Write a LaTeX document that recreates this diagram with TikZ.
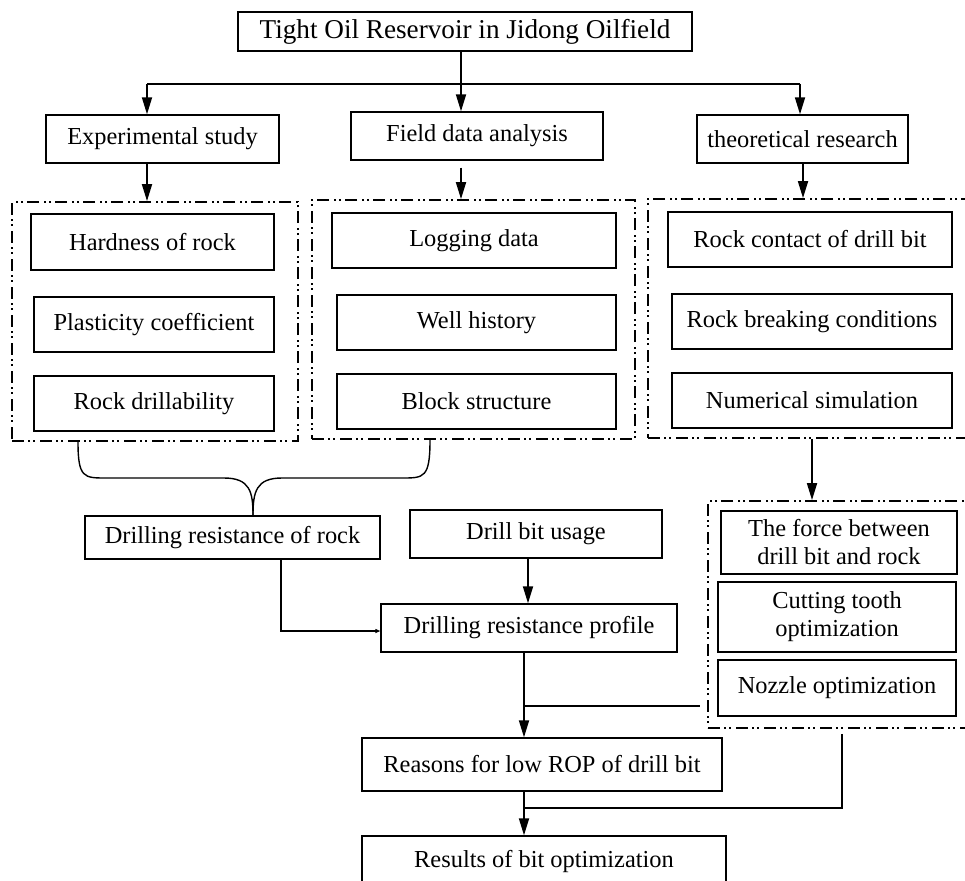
\documentclass[tikz,border=0pt]{standalone}
\usepackage{fontspec}
\setmainfont{Liberation Serif}
\usetikzlibrary{arrows.meta,calc}
\begin{document}
\begin{tikzpicture}[x=1pt,y=-1pt,
  box/.style={draw, line width=1.4pt, inner sep=0pt, align=center,
              font=\fontsize{24.4pt}{28pt}\selectfont},
  grp/.style={draw, line width=1.8pt, inner sep=0pt,
              dash pattern=on 12pt off 4pt on 2pt off 3pt on 2pt off 5pt},
  arr/.style={line width=1.8pt, -{Triangle[length=17pt,width=10pt]}},
  ln/.style={line width=1.4pt}]
\clip (0,0) rectangle (965,880);
\fill[white] (0,0) rectangle (965,880);

% top level
\node[box, minimum width=454pt, minimum height=39pt, font=\fontsize{27.2pt}{30pt}\selectfont]
  (title) at (465,31.5) {Tight Oil Reservoir in Jidong Oilfield};
\node[box, minimum width=233pt, minimum height=48pt] (exp) at (162.5,139) {Experimental study};
\node[box, minimum width=252pt, minimum height=48pt] (field) at (477,136) {Field data analysis};
\node[box, minimum width=211pt, minimum height=48pt] (theo) at (802.5,139) {theoretical research};

% groups
\node[grp, minimum width=286pt, minimum height=239pt] (g1) at (155,321.5) {};
\node[grp, minimum width=323pt, minimum height=239pt] (g2) at (473.5,319.5) {};
\node[grp, minimum width=337pt, minimum height=239pt] (g3) at (816.5,318.5) {};
\node[grp, minimum width=277pt, minimum height=227pt] (g4) at (846.5,614.5) {};

% group 1
\node[box, minimum width=243pt, minimum height=56pt] (hard) at (152.5,242) {Hardness of rock};
\node[box, minimum width=240pt, minimum height=55pt] (plast) at (154,324.5) {Plasticity coefficient};
\node[box, minimum width=240pt, minimum height=55pt] (drillab) at (154,403.5) {Rock drillability};
% group 2
\node[box, minimum width=284pt, minimum height=55pt] (logging) at (474,240.5) {Logging data};
\node[box, minimum width=279pt, minimum height=55pt] (well) at (476.5,322.5) {Well history};
\node[box, minimum width=279pt, minimum height=55pt] (block) at (476.5,401.5) {Block structure};
% group 3
\node[box, minimum width=284pt, minimum height=55pt] (contact) at (810,239.5) {Rock contact of drill bit};
\node[box, minimum width=280pt, minimum height=55pt] (breaking) at (812,321.5) {Rock breaking conditions};
\node[box, minimum width=280pt, minimum height=55pt] (numsim) at (812,400.5) {Numerical simulation};
% group 4
\node[box, minimum width=236pt, minimum height=63pt] (force) at (839,542.5) {The force between\\drill bit and rock};
\node[box, minimum width=238pt, minimum height=70pt] (cutting) at (837,617) {Cutting tooth\\optimization};
\node[box, minimum width=238pt, minimum height=56pt] (nozzle) at (837,688) {Nozzle optimization};

% lower part
\node[box, minimum width=295pt, minimum height=43pt] (dres) at (232.5,537.5) {Drilling resistance of rock};
\node[box, minimum width=252pt, minimum height=48pt] (usage) at (536,534) {Drill bit usage};
\node[box, minimum width=296pt, minimum height=48pt] (profile) at (529,628) {Drilling resistance profile};
\node[box, minimum width=360pt, minimum height=53pt] (reasons) at (542,764.5) {Reasons for low ROP of drill bit};
\node[box, minimum width=364pt, minimum height=50pt] (results) at (544,861) {Results of bit optimization};

% top connectors
\coordinate (bar) at (461,84);
\coordinate (barL) at (147,84);
\coordinate (barR) at (800,84);
\draw[ln] (title.south -| bar) -- (bar);
\draw[line width=1.8pt] (barL) -- (barR);
\draw[arr] (bar) -- (field.north -| bar);
\draw[arr] (barL) -- (exp.north -| barL);
\draw[arr] (barR) -- (theo.north -| barR);
\draw[arr] (exp.south -| barL) -- (g1.north -| barL);
\draw[arr, shorten <=7pt] (field.south -| bar) -- (g2.north -| bar);
\coordinate (t3) at (803,0);
\draw[arr] (theo.south -| t3) -- (g3.north -| t3);
\coordinate (t4) at (812,0);
\draw[arr] (g3.south -| t4) -- (g4.north -| t4);

% brace
\coordinate (bl) at (78,0);
\coordinate (br) at (430,0);
\coordinate (bt) at (253,0);
\draw[ln] (g1.south -| bl) .. controls (78,478) and (84,478) .. (106,478) -- (224,478)
  .. controls (250,478) and (253,492) .. (dres.north -| bt);
\draw[ln] (dres.north -| bt) .. controls (253,492) and (256,478) .. (282,478) -- (402,478)
  .. controls (424,478) and (430,478) .. (g2.south -| br);

% middle connectors
\coordinate (dr) at (281,631);
\draw[ln, -{Triangle[length=5pt,width=4pt]}] (dres.south -| dr) -- (dr) -- (profile.west |- dr);
\coordinate (u) at (528,0);
\draw[arr] (usage.south -| u) -- (profile.north -| u);
\coordinate (p) at (524,706);
\draw[arr] (profile.south -| p) -- (reasons.north -| p);
\draw[ln, shorten >=7pt] (p) -- (g4.west |- p);
\coordinate (q) at (842,808);
\draw[ln, shorten <=5pt] (g4.south -| q) -- (q) -- (q -| p);
\draw[arr] (reasons.south -| p) -- (results.north -| p);
\end{tikzpicture}
\end{document}
